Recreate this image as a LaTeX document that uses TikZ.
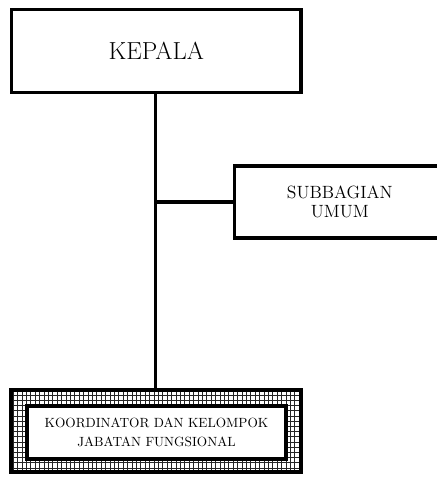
\documentclass[tikz,border=0pt]{standalone}
\begin{document}
\begin{tikzpicture}[x=0.75pt,y=-0.75pt,
  box/.style={draw, line width=2.4pt, inner sep=0pt, align=center},
  conn/.style={line width=2.4pt},
  hatchgrid/.style={draw=black!85, line width=0.55pt}]
\useasboundingbox (0,0) rectangle (436,477);
% top box
\node[box, minimum width=217pt, minimum height=62.25pt, font=\fontsize{18.5}{22}\selectfont] (kepala) at (156.25,51) {KEPALA};
% right box
\node[box, minimum width=158pt, minimum height=54pt, font=\fontsize{13.3}{14.5}\selectfont] (sub) at (339.75,202) {SUBBAGIAN\\UMUM};
% bottom framed box
\node[minimum width=217.5pt, minimum height=61.5pt, inner sep=0pt, outer sep=0pt] (outer) at (155.5,430.5) {};
\begin{scope}
  \clip (outer.south west) rectangle (outer.north east);
  \draw[hatchgrid, xstep=3.3pt, ystep=3.9pt] (outer.south west) grid (outer.north east);
\end{scope}
\draw[line width=3pt] (outer.south west) rectangle (outer.north east);
\node[box, fill=white, minimum width=194.25pt, minimum height=39.75pt, font=\fontsize{10}{17}\selectfont] (koor) at (156.5,432.5) {\raisebox{-3pt}{KOORDINATOR DAN KELOMPOK}\\JABATAN FUNGSIONAL};
% connectors
\draw[conn] (kepala.south -| outer.north) -- (outer.north);
\draw[conn] (outer.north |- sub.west) -- (sub.west);
\end{tikzpicture}
\end{document}
